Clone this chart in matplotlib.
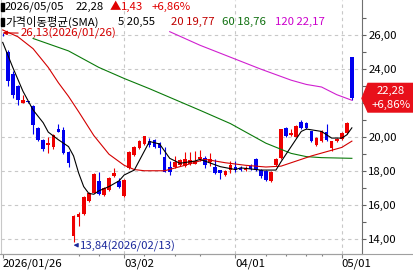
import numpy as np
import matplotlib.pyplot as plt
from matplotlib.patches import Polygon, Rectangle
from matplotlib.lines import Line2D
import matplotlib.transforms as mtransforms

plt.rcParams['font.family'] = ['Noto Sans CJK KR', 'DejaVu Sans']
FS = 8.2
plt.rcParams['font.size'] = FS

# daily candles, 2026/01/26 .. 2026/05/05 (index 0..69)
opens = [26.06, 25.0, 23.7, 23.0, 22.02, 22.12, 21.86, 20.57, 19.85, 19.55,
         19.45, 20.5, 20.4, 19.16, 14.17, 15.3, 15.5, 16.26, 16.73, 17.44,
         16.6, 16.9, 17.7, 17.44, 16.55, 18.2, 18.96, 19.35, 19.6, 19.8,
         19.85, 19.65, 18.86, 18.27, 18.27, 18.37, 18.3, 18.4, 18.45, 18.7,
         18.8, 18.56, 18.27, 18.07, 17.8, 18.07, 18.27, 18.2, 18.1, 18.3,
         18.7, 18.1, 18.0, 17.44, 18.37, 18.76, 20.54, 20.14, 20.04, 20.87,
         20.83, 20.34, 19.55, 19.75, 20.28, 19.35, 19.75, 19.9, 20.24, 24.7]
highs = [26.13, 25.1, 23.9, 23.05, 22.5, 22.15, 21.9, 20.6, 19.9, 20.0,
         20.2, 20.77, 20.6, 19.2, 15.45, 15.6, 16.55, 16.8, 17.9, 17.97,
         17.05, 17.65, 18.2, 17.6, 17.55, 19.2, 19.5, 19.85, 20.1, 19.95,
         19.9, 19.7, 19.45, 18.6, 18.9, 18.7, 19.15, 19.15, 19.2, 19.25,
         18.9, 19.1, 18.7, 18.1, 18.1, 18.6, 18.6, 18.3, 18.3, 18.4,
         18.75, 18.15, 18.05, 18.0, 18.75, 20.5, 20.6, 20.5, 20.7, 21.0,
         20.9, 20.35, 20.0, 20.4, 20.75, 19.8, 19.95, 20.3, 20.9, 24.72]
lows = [25.95, 23.0, 22.3, 21.9, 22.0, 22.0, 20.2, 19.8, 19.2, 19.1,
        19.3, 20.3, 19.0, 18.27, 13.84, 14.8, 15.45, 16.2, 16.7, 16.6,
        16.55, 16.85, 17.65, 17.0, 16.5, 18.15, 18.9, 19.3, 19.55, 19.45,
        19.35, 19.0, 17.95, 17.8, 18.2, 18.3, 18.25, 18.35, 18.4, 18.6,
        18.2, 18.3, 17.85, 17.55, 17.75, 17.9, 17.95, 18.0, 18.0, 18.1,
        18.0, 17.6, 17.4, 17.35, 18.3, 18.7, 20.0, 20.05, 20.0, 20.5,
        20.5, 19.7, 19.5, 19.7, 19.8, 19.2, 19.7, 19.85, 20.2, 22.2]
closes = [26.04, 23.3, 22.5, 22.2, 22.17, 22.05, 20.73, 19.85, 19.3, 19.65,
          20.14, 20.3, 19.08, 18.5, 15.4, 15.5, 16.5, 16.73, 17.83, 16.65,
          17.0, 17.6, 17.9, 17.1, 17.5, 19.15, 19.4, 19.8, 20.08, 19.55,
          19.4, 19.35, 17.97, 17.97, 18.56, 18.66, 18.7, 18.66, 18.6, 18.86,
          18.37, 18.7, 17.9, 17.88, 18.03, 18.37, 18.07, 18.07, 18.2, 18.15,
          18.07, 17.7, 17.5, 17.97, 18.7, 20.48, 20.08, 20.24, 20.67, 20.54,
          20.54, 19.75, 19.95, 20.34, 19.85, 19.75, 19.9, 20.24, 20.85, 22.28]

# moving averages: (candle index, value)
ma5_idx = [0, 2, 4, 6, 8, 9, 11, 13, 14, 15, 16, 17, 18, 19, 21, 23, 24, 26,
           29, 31, 33, 35, 38, 39, 43, 46, 47, 51, 54, 55, 57, 59, 60, 63, 65,
           67, 68, 69]
ma5 = [25.57, 24.09, 22.7, 21.6, 20.85, 20.3, 19.85, 19.45, 18.9, 17.9, 17.1,
       16.7, 16.65, 16.85, 17.1, 17.44, 17.78, 18.07, 19.75, 19.6, 18.76, 18.47,
       18.6, 18.7, 18.27, 18.1, 18.2, 18.07, 18.07, 18.56, 19.45, 20.34, 20.48,
       20.34, 19.95, 19.95, 20.14, 20.55]
ma20_idx = [0, 3, 6, 9, 11, 13, 15, 18, 21, 24, 26, 28, 32, 36, 40, 44, 48,
            52, 55, 58, 61, 64, 67, 69]
ma20 = [26.3, 25.9, 25.2, 24.1, 23.2, 22.4, 21.5, 20.1, 19.0, 18.35, 18.1,
        18.03, 18.03, 18.35, 18.7, 18.5, 18.35, 18.25, 18.3, 18.6, 18.9, 19.15,
        19.4, 19.77]
ma60_idx = [6, 13, 19, 24, 29, 39, 45, 52, 57, 60, 63, 69]
ma60 = [25.8, 25.07, 24.1, 23.45, 22.85, 21.58, 20.8, 19.65, 19.05, 18.86,
        18.8, 18.76]
ma120_idx = [33, 39, 45, 51, 57, 60, 63, 66, 69]
ma120 = [26.2, 25.4, 24.7, 24.0, 23.35, 23.1, 22.95, 22.5, 22.17]

date_ticks = [0, 24, 46, 67]
date_labels = ['2026/01/26', '03/02', '04/01', '05/01']
week_ticks = [15, 19, 28, 34, 39, 52, 56, 60, 63]
price_ticks = [14, 16, 18, 20, 22, 24, 26]
price_minor = [15, 17, 19, 21, 23, 25, 27]

W, H = 414, 273
fig = plt.figure(figsize=(W / 100, H / 100), dpi=100)
ax = fig.add_axes([1 / W, 19 / H, 361 / W, 254 / H])

UP, DOWN = '#ee0000', '#0000ee'
o, hi, lo, c = map(np.array, (opens, highs, lows, closes))
x = np.arange(len(c))
col = np.where(c >= o, UP, DOWN)
ax.vlines(x, lo, hi, colors=col, lw=0.8, zorder=3)
ax.bar(x, np.maximum(np.abs(c - o), 0.05), bottom=np.minimum(o, c), width=0.72,
       color=col, linewidth=0, zorder=4)

ax.plot(ma120_idx, ma120, color='#d020d0', lw=0.8, zorder=5)
ax.plot(ma60_idx, ma60, color='#0a7a0a', lw=0.8, zorder=5)
ax.plot(ma20_idx, ma20, color='#d40000', lw=0.8, zorder=5)
ax.plot(ma5_idx, ma5, color='black', lw=0.8, zorder=6)

# grid
for p in price_ticks:
    ax.axhline(p, color='#c8c8c8', lw=0.8, ls=(0, (3, 3)), zorder=1)
for t in date_ticks[1:]:
    ax.axvline(t, color='#c8c8c8', lw=0.8, ls=(0, (3, 3)), zorder=1)

ax.set_xlim(-0.34, 71.0)
ax.set_ylim(13.14, 28.06)

last = closes[-1]
pct = (closes[-1] / closes[-2] - 1) * 100

# the 22,00 label sits under the price tag, so leave it blank
ylabels = ['' if abs(p - last) < 1 else f'{p:.2f}'.replace('.', ',')
           for p in price_ticks]
ax.yaxis.tick_right()
ax.set_yticks(price_ticks, ylabels)
ax.set_yticks(price_minor, minor=True)
ax.tick_params(axis='y', which='both', direction='out', length=3, width=0.8,
               color='#606060', pad=1.5, labelsize=FS)
ax.set_xticks(date_ticks, date_labels)
ax.set_xticks(week_ticks, minor=True)
for lbl in ax.get_xticklabels():
    lbl.set_horizontalalignment('left')
ax.tick_params(axis='x', which='major', direction='out', length=3, width=0.8,
               color='#808080', pad=0.5, labelsize=FS)
ax.tick_params(axis='x', which='minor', direction='out', length=1.5, width=0.8,
               color='#808080')

ax.spines['top'].set_visible(False)
ax.spines['left'].set_color('#c8c8c8')
ax.spines['right'].set_color('#707070')
ax.spines['bottom'].set_color('#a0a0a0')
fig.add_artist(Line2D([0, 1], [19 / H, 19 / H], transform=fig.transFigure,
                      color='#a0a0a0', lw=0.8))

# high / low annotations
ax.annotate('26,13(2026/01/26)', xy=(0, 26.13), xytext=(3.6, 26.08),
            color='#d40000', va='center', ha='left', fontsize=FS,
            arrowprops=dict(arrowstyle='-|>', color='#d40000', lw=0.8,
                            shrinkA=0, shrinkB=0, mutation_scale=6))
ax.annotate('13,84(2026/02/13)', xy=(14, 13.66), xytext=(15.3, 13.6),
            color='#1c2a9c', va='center', ha='left', fontsize=FS,
            arrowprops=dict(arrowstyle='-|>', color='#1c2a9c', lw=0.8,
                            shrinkA=0, shrinkB=0, mutation_scale=6))

# current price tag
tr = mtransforms.blended_transform_factory(fig.transFigure, ax.transData)
tag = Polygon([(362 / W, last), (368 / W, last + 0.88), (1.0, last + 0.88),
               (1.0, last - 0.8), (368 / W, last - 0.8)], closed=True,
              transform=tr, color='#e8101a', clip_on=False, zorder=10)
fig.add_artist(tag)
fig.text(391 / W, last + 0.42, f'{last:.2f}'.replace('.', ','), transform=tr,
         color='white', ha='center', va='center', fontsize=FS, zorder=11)
fig.text(391 / W, last - 0.37, f'+{pct:.2f}%'.replace('.', ','), transform=tr,
         color='white', ha='center', va='center', fontsize=FS, zorder=11)

# legend lines at the top
def ftxt(px, py, s, color='black'):
    fig.text(px / W, 1 - py / H, s, color=color, ha='left', va='center',
             fontsize=FS)

for py in (7, 22):
    fig.add_artist(Rectangle((1 / W, 1 - (py + 3.5) / H), 3 / W, 7 / H,
                             transform=fig.transFigure, color='black'))
ftxt(5, 7, '2026/05/05')
ftxt(76, 7, f'{last:.2f}'.replace('.', ','))
ftxt(110, 7, '▲', '#e00000')
ftxt(121, 7, f'{closes[-1] - closes[-2]:.2f}'.replace('.', ','), '#e00000')
ftxt(152, 7, f'+{pct:.2f}%'.replace('.', ','), '#e00000')
ftxt(5, 22, '가격이동평균(SMA)')
ftxt(118, 22, f'5 {ma5[-1]:.2f}'.replace('.', ','))
ftxt(171, 22, f'20 {ma20[-1]:.2f}'.replace('.', ','), '#c00000')
ftxt(222, 22, f'60 {ma60[-1]:.2f}'.replace('.', ','), '#107010')
ftxt(275, 22, f'120 {ma120[-1]:.2f}'.replace('.', ','), '#cc00cc')

fig.savefig('out.png', dpi=100)
